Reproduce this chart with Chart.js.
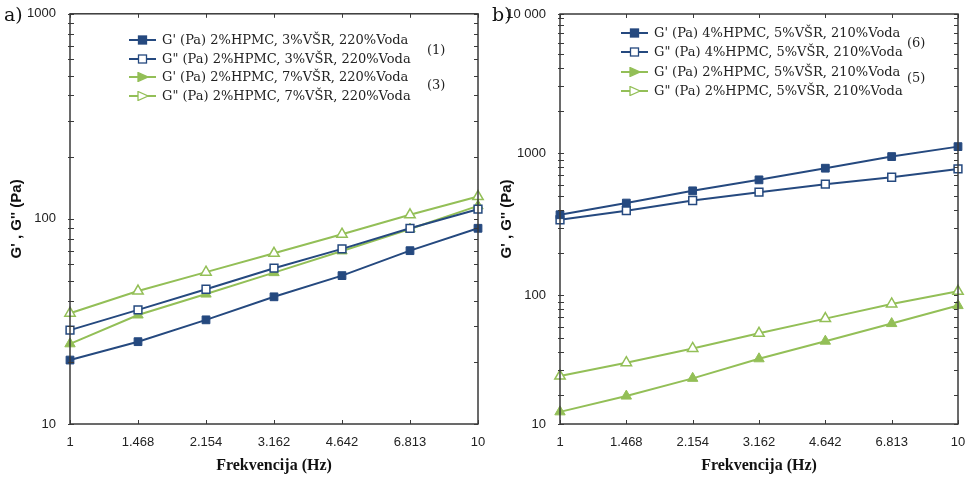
<!DOCTYPE html>
<html>
<head>
<meta charset="utf-8">
<script src="https://cdn.jsdelivr.net/npm/chart.js@4.4.0/dist/chart.umd.min.js"></script>
<style>
  body { margin: 0; background: #fff; width: 970px; height: 479px; overflow: hidden; position: relative; font-family: 'DejaVu Serif', serif; }
  canvas { position: absolute; top: 0; }
  .tag { position: absolute; font-size: 19px; color: #111; line-height: 1; }
  .legend { position: absolute; font-size: 13px; color: #222; }
  .row { position: absolute; left: 0; white-space: nowrap; height: 18px; line-height: 18px; }
  .row svg { position: absolute; left: 0; top: 4px; }
  .row span { position: absolute; left: 33px; }
  .num { position: absolute; font-size: 13px; color: #222; line-height: 1; }
</style>
</head>
<body>
<canvas id="chartA" width="490" height="479" style="left:0"></canvas>
<canvas id="chartB" width="480" height="479" style="left:490px"></canvas>

<div class="tag" style="left:4px;top:5px">a)</div>
<div class="tag" style="left:492px;top:5px">b)</div>

<div class="legend" id="legendA" style="left:129px;top:31px"></div>
<div class="legend" id="legendB" style="left:621px;top:24px"></div>

<div class="num" style="left:427px;top:43px">(1)</div>
<div class="num" style="left:427px;top:78px">(3)</div>
<div class="num" style="left:907px;top:36px">(6)</div>
<div class="num" style="left:907px;top:71px">(5)</div>

<script>
/* global Chart */
// frekvencije (Hz), iste za oba grafa
const freqLabels = ['1', '1.468', '2.154', '3.162', '4.642', '6.813', '10']

// a) 2%HPMC, 220%Voda
const aLabels = [
  "G' (Pa) 2%HPMC, 3%VŠR, 220%Voda",
  'G" (Pa) 2%HPMC, 3%VŠR, 220%Voda',
  "G' (Pa) 2%HPMC, 7%VŠR, 220%Voda",
  'G" (Pa) 2%HPMC, 7%VŠR, 220%Voda'
]
const aStorage3 = [20.5, 25.2, 32.2, 41.7, 52.9, 70, 90]
const aLoss3 = [28.7, 36, 45.4, 57.5, 71.4, 90, 111.5]
const aStorage7 = [24.6, 34, 43, 54.7, 69.8, 89.3, 115.7]
const aLoss7 = [34.7, 44.5, 55, 68, 84.2, 104.7, 128.5]

// b) 5%VŠR, 210%Voda
const bLabels = [
  "G' (Pa) 4%HPMC, 5%VŠR, 210%Voda",
  'G" (Pa) 4%HPMC, 5%VŠR, 210%Voda',
  "G' (Pa) 2%HPMC, 5%VŠR, 210%Voda",
  'G" (Pa) 2%HPMC, 5%VŠR, 210%Voda'
]
const bStorage4 = [369, 446, 544, 650, 785, 948, 1114]
const bLoss4 = [340, 394, 465, 532, 606, 678, 776]
const bStorage2 = [15.1, 19.5, 26, 35.7, 47.5, 63.2, 84.6]
const bLoss2 = [27, 33.5, 42.2, 54, 68.5, 86.9, 106.7]

// y osi (log)
const aTicks = [10, 20, 30, 40, 50, 60, 70, 80, 90, 100, 200, 300, 400, 500, 600, 700, 800, 900, 1000]
const aTickText = { 10: '10', 100: '100', 1000: '1000' }
const bMin = 12.4
const bMax = 9570
const bTicks = [bMin, 20, 30, 40, 50, 60, 70, 80, 90, 100, 200, 300, 400, 500, 600, 700, 800, 900,
  1000, 2000, 3000, 4000, 5000, 6000, 7000, 8000, 9000, bMax]
const bTickText = { [bMin]: '10', 100: '100', 1000: '1000', [bMax]: '10 000' }

const blue = '#25497f'
const green = '#93bf57'
const axisColor = '#3a3a3a'

function series (label, data, color, shape, hollow) {
  return {
    label,
    data,
    borderColor: color,
    backgroundColor: color,
    borderWidth: 2,
    pointStyle: shape,
    pointRadius: shape === 'rect' ? 5.5 : 6,
    pointBorderWidth: hollow ? 1.5 : 1,
    pointBackgroundColor: hollow ? '#fff' : color,
    pointBorderColor: color,
    tension: 0,
    fill: false
  }
}

// okvir i kratke crtice unutra, na sve cetiri strane
const frameTicks = {
  id: 'frameTicks',
  afterDatasetsDraw (chart) {
    const { ctx, chartArea: a, scales } = chart
    ctx.save()
    ctx.strokeStyle = axisColor
    ctx.lineWidth = 1
    scales.y.ticks.forEach(t => {
      const y = Math.round(scales.y.getPixelForValue(t.value)) + 0.5
      ctx.beginPath()
      ctx.moveTo(a.left - 2, y)
      ctx.lineTo(a.left + 4, y)
      ctx.moveTo(a.right - 4, y)
      ctx.lineTo(a.right, y)
      ctx.stroke()
    })
    scales.x.ticks.forEach((t, i) => {
      const x = Math.round(scales.x.getPixelForTick(i)) + 0.5
      ctx.beginPath()
      ctx.moveTo(x, a.bottom)
      ctx.lineTo(x, a.bottom - 4)
      ctx.moveTo(x, a.top)
      ctx.lineTo(x, a.top + 4)
      ctx.stroke()
    })
    ctx.lineWidth = 1.5
    ctx.strokeRect(a.left, a.top, a.right - a.left, a.bottom - a.top)
    ctx.restore()
  }
}

function makeChart (id, datasets, yMin, yMax, yTicks, yText, top) {
  return new Chart(document.getElementById(id), {
    type: 'line',
    data: { labels: freqLabels, datasets },
    plugins: [frameTicks],
    options: {
      responsive: false,
      animation: false,
      events: [],
      layout: { padding: { top, right: 12, left: 0, bottom: 0 } },
      plugins: { legend: { display: false }, tooltip: { enabled: false } },
      scales: {
        x: {
          type: 'category',
          offset: false,
          afterFit: s => { s.height = 55 },
          grid: { display: false },
          border: { display: false },
          ticks: {
            autoSkip: false,
            maxRotation: 0,
            padding: 3,
            color: '#222',
            font: { family: 'Liberation Sans', size: 13 }
          },
          title: {
            display: true,
            text: 'Frekvencija (Hz)',
            color: '#111',
            font: { family: 'Liberation Serif', size: 16, weight: 'bold' },
            padding: { top: 0, bottom: 4 }
          }
        },
        y: {
          type: 'logarithmic',
          min: yMin,
          max: yMax,
          afterBuildTicks: s => { s.ticks = yTicks.map(v => ({ value: v })) },
          afterFit: s => { s.width = 70 },
          grid: { display: false },
          border: { display: false },
          ticks: {
            autoSkip: false,
            padding: 6,
            color: '#222',
            font: { family: 'Liberation Sans', size: 13 },
            callback: v => yText[v] || ''
          },
          title: {
            display: true,
            text: "G' , G'' (Pa)",
            color: '#111',
            font: { family: 'Liberation Sans', size: 15, weight: 'bold' },
            padding: { top: 8, bottom: 0 }
          }
        }
      }
    }
  })
}

makeChart('chartA', [
  series(aLabels[0], aStorage3, blue, 'rect', false),
  series(aLabels[1], aLoss3, blue, 'rect', true),
  series(aLabels[2], aStorage7, green, 'triangle', false),
  series(aLabels[3], aLoss7, green, 'triangle', true)
], 10, 1000, aTicks, aTickText, 13)

makeChart('chartB', [
  series(bLabels[0], bStorage4, blue, 'rect', false),
  series(bLabels[1], bLoss4, blue, 'rect', true),
  series(bLabels[2], bStorage2, green, 'triangle', false),
  series(bLabels[3], bLoss2, green, 'triangle', true)
], bMin, bMax, bTicks, bTickText, 14)

// legenda: linija + oznaka (trokut okrenut udesno kao u originalu)
function marker (color, shape, hollow) {
  const fill = hollow ? '#fff' : color
  const mark = shape === 'rect'
    ? `<rect x="9.5" y="1" width="8" height="8" fill="${fill}" stroke="${color}" stroke-width="1.3"/>`
    : `<polygon points="9,0.5 19,5 9,9.5" fill="${fill}" stroke="${color}" stroke-width="1.3"/>`
  return `<svg width="27" height="10"><line x1="0" y1="5" x2="27" y2="5" stroke="${color}" stroke-width="2"/>${mark}</svg>`
}

function fillLegend (id, labels, step) {
  const styles = [[blue, 'rect', false], [blue, 'rect', true], [green, 'tri', false], [green, 'tri', true]]
  document.getElementById(id).innerHTML = labels.map((l, i) =>
    `<div class="row" style="top:${(i * step).toFixed(1)}px">${marker(...styles[i])}<span>${l}</span></div>`
  ).join('')
}
fillLegend('legendA', aLabels, 18.7)
fillLegend('legendB', bLabels, 19.3)
</script>
</body>
</html>
